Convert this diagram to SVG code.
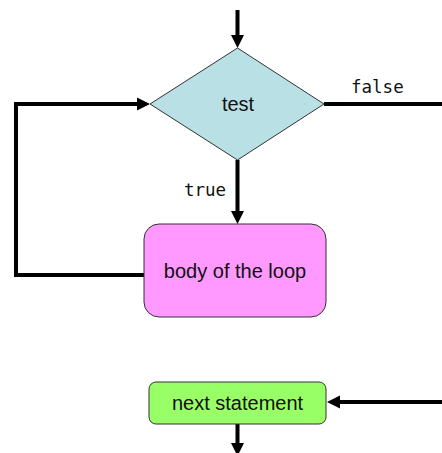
<svg xmlns="http://www.w3.org/2000/svg" width="442" height="453" viewBox="0 0 442 453">
<style>
.conn{fill:none;stroke:#000;stroke-width:4;stroke-linejoin:miter;stroke-linecap:butt}
.shape{stroke:#333;stroke-width:1}
.sans{font-family:"Liberation Sans",Arial,sans-serif;font-size:20px;fill:#111;text-anchor:middle}
.mono{font-family:"DejaVu Sans Mono",monospace;font-size:17.5px;fill:#111}
</style>
<defs>
<marker id="ah" markerUnits="userSpaceOnUse" markerWidth="14" markerHeight="14" refX="0" refY="6.5" orient="auto" overflow="visible">
<path d="M0,0 L13,6.5 L0,13 z" fill="#000"/>
</marker>
</defs>
<rect width="442" height="453" fill="#fff"/>
<g id="connectors">
<line class="conn" x1="237.5" y1="10" x2="237.5" y2="35" marker-end="url(#ah)"/>
<polyline class="conn" points="144,275 16,275 16,104 137,104" marker-end="url(#ah)"/>
<line class="conn" x1="237.5" y1="160" x2="237.5" y2="211" marker-end="url(#ah)"/>
<line class="conn" x1="324" y1="104" x2="442" y2="104"/>
<line class="conn" x1="442" y1="402" x2="340" y2="402" marker-end="url(#ah)"/>
<line class="conn" x1="237.5" y1="424" x2="237.5" y2="443" marker-end="url(#ah)"/>
<text class="mono" x="351" y="93">false</text>
<text class="mono" x="184" y="196">true</text>
</g>
<g id="test">
<polygon class="shape" points="237.5,48 324,104 237.5,160 150,104" fill="#b9e0e4"/>
<text class="sans" x="238" y="111">test</text>
</g>
<g id="body">
<rect class="shape" x="144" y="224" width="182" height="93" rx="15" fill="#ff99ff"/>
<text class="sans" x="235" y="278">body of the loop</text>
</g>
<g id="next">
<rect class="shape" x="149" y="382" width="177" height="42" rx="7" fill="#99ff66"/>
<text class="sans" x="237.5" y="410">next statement</text>
</g>
</svg>
